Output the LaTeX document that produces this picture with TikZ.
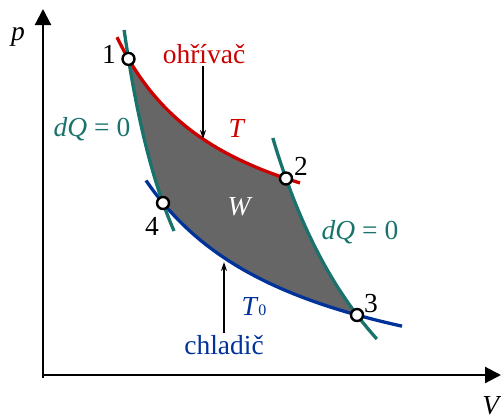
\documentclass[tikz,border=0pt]{standalone}
\usepackage{fontspec}
\setmainfont{Liberation Serif}
\usetikzlibrary{arrows.meta}
\definecolor{hot}{RGB}{204,0,0}
\definecolor{cold}{RGB}{0,51,153}
\definecolor{adia}{RGB}{25,115,108}
\definecolor{work}{RGB}{102,102,102}
\tikzset{
  axis/.style={line width=2.2pt,-{Triangle[length=16pt,width=16pt]}},
  curve/.style={line width=3.3pt},
  lab/.style={font=\fontsize{27.5}{27.5}\selectfont,anchor=base,inner sep=0pt},
  ptr/.style={line width=1.6pt,-{Stealth[length=9pt,width=6pt]}},
  pt/.style={circle,draw=black,fill=white,line width=2.4pt,minimum size=12pt,inner sep=0pt}
}
% curve formulas (pixel coordinates, y downwards)
\newcommand{\redY}[1]{273.3-267.87/(#1-3.56)*100}
\newcommand{\blueY}[1]{418.7-387.40/(#1+16.6)*100}
\newcommand{\leftX}[1]{58.06+308.53/(497-#1)*100}
\newcommand{\rightX}[1]{131.6+669.02/(611.8-#1)*100}
\begin{document}
\begin{tikzpicture}[x=1pt,y=-1pt]
\useasboundingbox (0,0) rectangle (501,415);
% key points
\coordinate (P1) at (128.5,58.9);
\coordinate (P2) at (286,178.5);
\coordinate (P3) at (357,315);
\coordinate (P4) at (163,203);
% axes
\coordinate (Ptop) at (43,9);
\coordinate (Vend) at (501,375);
\coordinate (Obot) at (43,378);
\coordinate (Oleft) at (41.9,375);
\draw[axis] (Obot) -- (Ptop);
\draw[axis] (Oleft) -- (Vend);
% work area
\fill[work] (P1)
  -- plot[variable=\t,domain=128.5:286,samples=60] (\t,{\redY{\t}})
  -- plot[variable=\t,domain=178.5:315,samples=50] ({\rightX{\t}},\t)
  -- plot[variable=\t,domain=357:163,samples=60] (\t,{\blueY{\t}})
  -- plot[variable=\t,domain=203:58.9,samples=50] ({\leftX{\t}},\t)
  -- cycle;
% curves
\draw[curve,hot] plot[variable=\t,domain=117:300,samples=80] (\t,{\redY{\t}});
\draw[curve,cold] plot[variable=\t,domain=146:402,samples=80] (\t,{\blueY{\t}});
\draw[curve,adia] plot[variable=\t,domain=30:231,samples=70] ({\leftX{\t}},\t);
\draw[curve,adia] plot[variable=\t,domain=138:339,samples=70] ({\rightX{\t}},\t);
% points
\node[pt] (n1) at (P1) {};
\node[pt] (n2) at (P2) {};
\node[pt] (n3) at (P3) {};
\node[pt] (n4) at (P4) {};
% labels
\node[lab] (l1) at (109,63) {1};
\node[lab] (l2) at (301,175) {2};
\node[lab] (l3) at (371,312) {3};
\node[lab] (l4) at (152,235) {4};
\node[lab] (pl) at (18,40) {\textit{p}};
\node[lab] (vl) at (492,414) {\textit{V}};
\node[lab,hot] (heat) at (204,63) {ohřívač};
\node[lab,hot] (tl) at (237,137) {\textit{T}};
\node[lab,white] (wl) at (240,215) {\textit{W}};
\node[lab,adia] (q1) at (92,136) {\textit{dQ} = 0};
\node[lab,adia] (q2) at (360,239) {\textit{dQ} = 0};
\node[lab,cold] (t0) at (254,315) {\textit{T}\raisebox{-0.5pt}{\fontsize{16}{16}\selectfont 0}};
\node[lab,cold] (cool) at (224,354) {chladič};
% pointers
\coordinate (a1s) at (203,66);
\coordinate (a1e) at (203,139);
\coordinate (a2s) at (224,333);
\coordinate (a2e) at (224,262);
\draw[ptr] (a1s) -- (a1e);
\draw[ptr] (a2s) -- (a2e);
\end{tikzpicture}
\end{document}
